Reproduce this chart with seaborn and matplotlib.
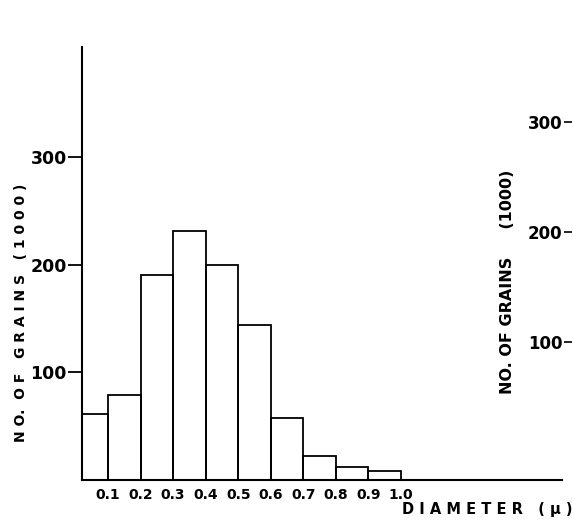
import numpy as np
import pandas as pd
import matplotlib
matplotlib.use("Agg")
import matplotlib.pyplot as plt
import seaborn as sns

# Grain-size distribution: bin edges in microns and counts (thousands)
bin_edges = [0.0, 0.1, 0.2, 0.3, 0.4, 0.5, 0.6, 0.7, 0.8, 0.9, 1.0]
grain_counts = [61, 79, 190, 231, 200, 144, 58, 22, 12, 8]
x_tick_values = [0.1, 0.2, 0.3, 0.4, 0.5, 0.6, 0.7, 0.8, 0.9, 1.0]
x_tick_labels = ["0.1", "0.2", "0.3", "0.4", "0.5", "0.6", "0.7", "0.8", "0.9", "1.0"]
y_tick_values = [100, 200, 300]
y_tick_labels = ["100", "200", "300"]

centers = [(a + b) / 2 for a, b in zip(bin_edges[:-1], bin_edges[1:])]
df = pd.DataFrame({"diameter": centers, "count": grain_counts})

sns.set_theme(style="white")
plt.rcParams["font.family"] = ["DejaVu Sans"]
plt.rcParams["font.weight"] = "bold"
for key in ["text.color", "axes.labelcolor", "xtick.color", "ytick.color"]:
    plt.rcParams[key] = "black"

W, H = 573, 528
fig = plt.figure(figsize=(W / 100, H / 100), dpi=100)
fig.patch.set_facecolor("white")

# main axes: left spine at x~82px, baseline at y~480px
ax = fig.add_axes([82 / W, (H - 480) / H, (562 - 82) / W, (480 - 47) / H])
ax.set_facecolor("white")
sns.histplot(data=df, x="diameter", weights="count", bins=bin_edges,
             fill=False, color="black", linewidth=1.3, ax=ax)

ax.set_xlim(0.02, 1.495)
ax.set_ylim(0, 402)
for s in ["top", "right"]:
    ax.spines[s].set_visible(False)
for s in ["left", "bottom"]:
    ax.spines[s].set_color("black")
    ax.spines[s].set_linewidth(1.5)

ax.set_xticks(x_tick_values)
ax.set_xticklabels(x_tick_labels, fontsize=10, fontweight="bold")
ax.tick_params(axis="x", length=0, pad=6)
ax.set_yticks(y_tick_values)
ax.set_yticklabels(y_tick_labels, fontsize=12.5, fontweight="bold")
ax.tick_params(axis="y", direction="out", length=10, width=1.3, pad=1,
               left=True, color="black")

ax.set_ylabel("N O.  O F   G R A I N S   ( 1 0 0 0 )", fontsize=10,
              fontweight="bold")
ax.yaxis.set_label_coords(28 / W, (H - 313) / H, transform=fig.transFigure)
ax.set_xlabel("D I A M E T E R   ( μ )", fontsize=10.5, fontweight="bold")
ax.xaxis.set_label_coords(487 / W, (H - 502) / H, transform=fig.transFigure)

# secondary count scale along the right edge
ax2 = fig.add_axes([572 / W, (H - 452) / H, 0.0005, (452 - 47) / H])
ax2.set_ylim(0, 368)
ax2.patch.set_visible(False)
for s in ax2.spines.values():
    s.set_visible(False)
ax2.set_xticks([])
ax2.set_yticks(y_tick_values)
ax2.set_yticklabels(y_tick_labels, fontsize=12, fontweight="bold")
ax2.tick_params(axis="y", direction="out", length=6, width=1.2, pad=1,
                left=True, color="black")
ax2.set_ylabel("NO. OF GRAINS     (1000)", fontsize=11.5, fontweight="bold")
ax2.yaxis.set_label_coords(515 / W, (H - 282) / H, transform=fig.transFigure)

fig.savefig("out.png", dpi=100, facecolor="white")
